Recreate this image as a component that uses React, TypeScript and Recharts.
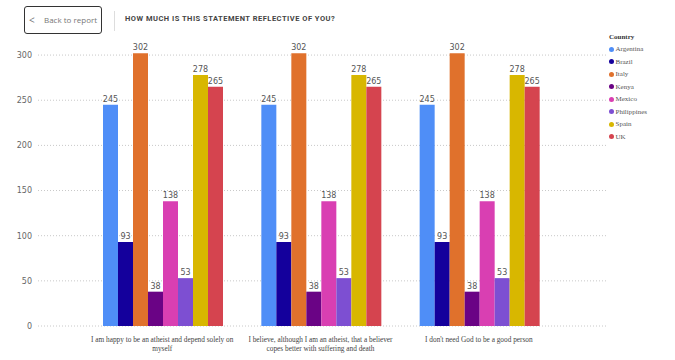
import { BarChart, Bar, XAxis, YAxis, CartesianGrid, LabelList } from "recharts"

const categories = [
  "I am happy to be an atheist and depend solely on myself",
  "I believe, although I am an atheist, that a believer copes better with suffering and death",
  "I don't need God to be a good person",
]

// how each category label breaks over lines
const categoryLines = [
  ["I am happy to be an atheist and depend solely on", "myself"],
  ["I believe, although I am an atheist, that a believer", "copes better with suffering and death"],
  ["I don't need God to be a good person"],
]

const countries = ["Argentina", "Brazil", "Italy", "Kenya", "Mexico", "Philippines", "Spain", "UK"]
const colors = ["#4f8ef7", "#14009c", "#e0712c", "#6a0385", "#d93fb2", "#7d4fd2", "#d8b700", "#d5444f"]

const argentina = [245, 245, 245]
const brazil = [93, 93, 93]
const italy = [302, 302, 302]
const kenya = [38, 38, 38]
const mexico = [138, 138, 138]
const philippines = [53, 53, 53]
const spain = [278, 278, 278]
const uk = [265, 265, 265]

const yTicks = [0, 50, 100, 150, 200, 250, 300]
const yMax = 320

const seriesValues = [argentina, brazil, italy, kenya, mexico, philippines, spain, uk]

const data = categories.map((c, i) => {
  const row: Record<string, string | number> = { category: c }
  countries.forEach((k, j) => {
    row[k] = seriesValues[j][i]
  })
  return row
})

function CategoryTick({ x, y, payload }: any) {
  const idx = categories.indexOf(payload.value)
  const lines = categoryLines[idx] ?? [payload.value]
  return (
    <g transform={`translate(${x},${y})`}>
      {lines.map((l, i) => (
        <text
          key={i}
          x={0}
          y={8 + i * 8.5}
          textAnchor="middle"
          fill="#444"
          fontSize={7.3}
          fontFamily="'Liberation Serif', serif"
        >
          {l}
        </text>
      ))}
    </g>
  )
}

function Header() {
  return (
    <div style={{ position: "absolute", left: 0, top: 0, width: 675, height: 40 }}>
      <div
        style={{
          position: "absolute",
          left: 24,
          top: 6,
          width: 76,
          height: 26,
          border: "1.5px solid #333",
          borderRadius: 3,
          fontFamily: "'Open Sans', sans-serif",
          fontSize: 8,
          color: "#777",
          lineHeight: "26px",
          whiteSpace: "nowrap",
        }}
      >
        <span style={{ position: "absolute", left: 4, fontSize: 10 }}>&lt;</span>
        <span style={{ position: "absolute", left: 19 }}>Back to report</span>
      </div>
      <div style={{ position: "absolute", left: 114, top: 11, width: 1, height: 20, background: "#ddd" }} />
      <div
        style={{
          position: "absolute",
          left: 125,
          top: 14,
          fontFamily: "Roboto, sans-serif",
          fontWeight: 700,
          fontSize: 7.5,
          letterSpacing: 0.5,
          color: "#444",
          whiteSpace: "nowrap",
        }}
      >
        HOW MUCH IS THIS STATEMENT REFLECTIVE OF YOU?
      </div>
    </div>
  )
}

function CountryLegend() {
  return (
    <div
      style={{
        position: "absolute",
        left: 609,
        top: 31,
        fontFamily: "'Liberation Serif', serif",
        fontSize: 7,
        color: "#555",
      }}
    >
      <div style={{ fontWeight: 700, color: "#333", height: 12, lineHeight: "12px" }}>Country</div>
      {countries.map((c, i) => (
        <div key={c} style={{ height: 12.5, lineHeight: "12.5px", display: "flex", alignItems: "center" }}>
          <span
            style={{
              width: 5,
              height: 5,
              borderRadius: "50%",
              background: colors[i],
              display: "inline-block",
              marginRight: 1.5,
            }}
          />
          {c}
        </div>
      ))}
    </div>
  )
}

export default function App() {
  return (
    <div style={{ position: "absolute", left: 0, top: 0, width: 675, height: 360, background: "#fff", overflow: "hidden" }}>
      <Header />
      <BarChart
        width={675}
        height={360}
        data={data}
        margin={{ top: 37, right: 68, left: 0, bottom: 0 }}
        barCategoryGap={20}
        barGap={0}
      >
        <CartesianGrid
          vertical={false}
          stroke="#c8c8c8"
          strokeDasharray="1 2"
          horizontalCoordinatesGenerator={({ offset }: any) =>
            yTicks.map((t) => offset.top + offset.height * (1 - t / yMax))
          }
        />
        <XAxis
          dataKey="category"
          axisLine={false}
          tickLine={false}
          height={34}
          interval={0}
          padding={{ left: 45, right: 49 }}
          tick={<CategoryTick />}
        />
        <YAxis
          domain={[0, yMax]}
          ticks={yTicks}
          axisLine={false}
          tickLine={false}
          tickSize={4}
          width={38}
          tick={{ fill: "#666", fontSize: 8, fontFamily: "'DejaVu Sans', sans-serif" }}
        />
        {countries.map((c, i) => (
          <Bar key={c} dataKey={c} fill={colors[i]} isAnimationActive={false}>
            <LabelList
              dataKey={c}
              position="top"
              offset={3}
              fill="#555"
              fontSize={8}
              fontFamily="'DejaVu Sans', sans-serif"
            />
          </Bar>
        ))}
      </BarChart>
      <CountryLegend />
    </div>
  )
}
